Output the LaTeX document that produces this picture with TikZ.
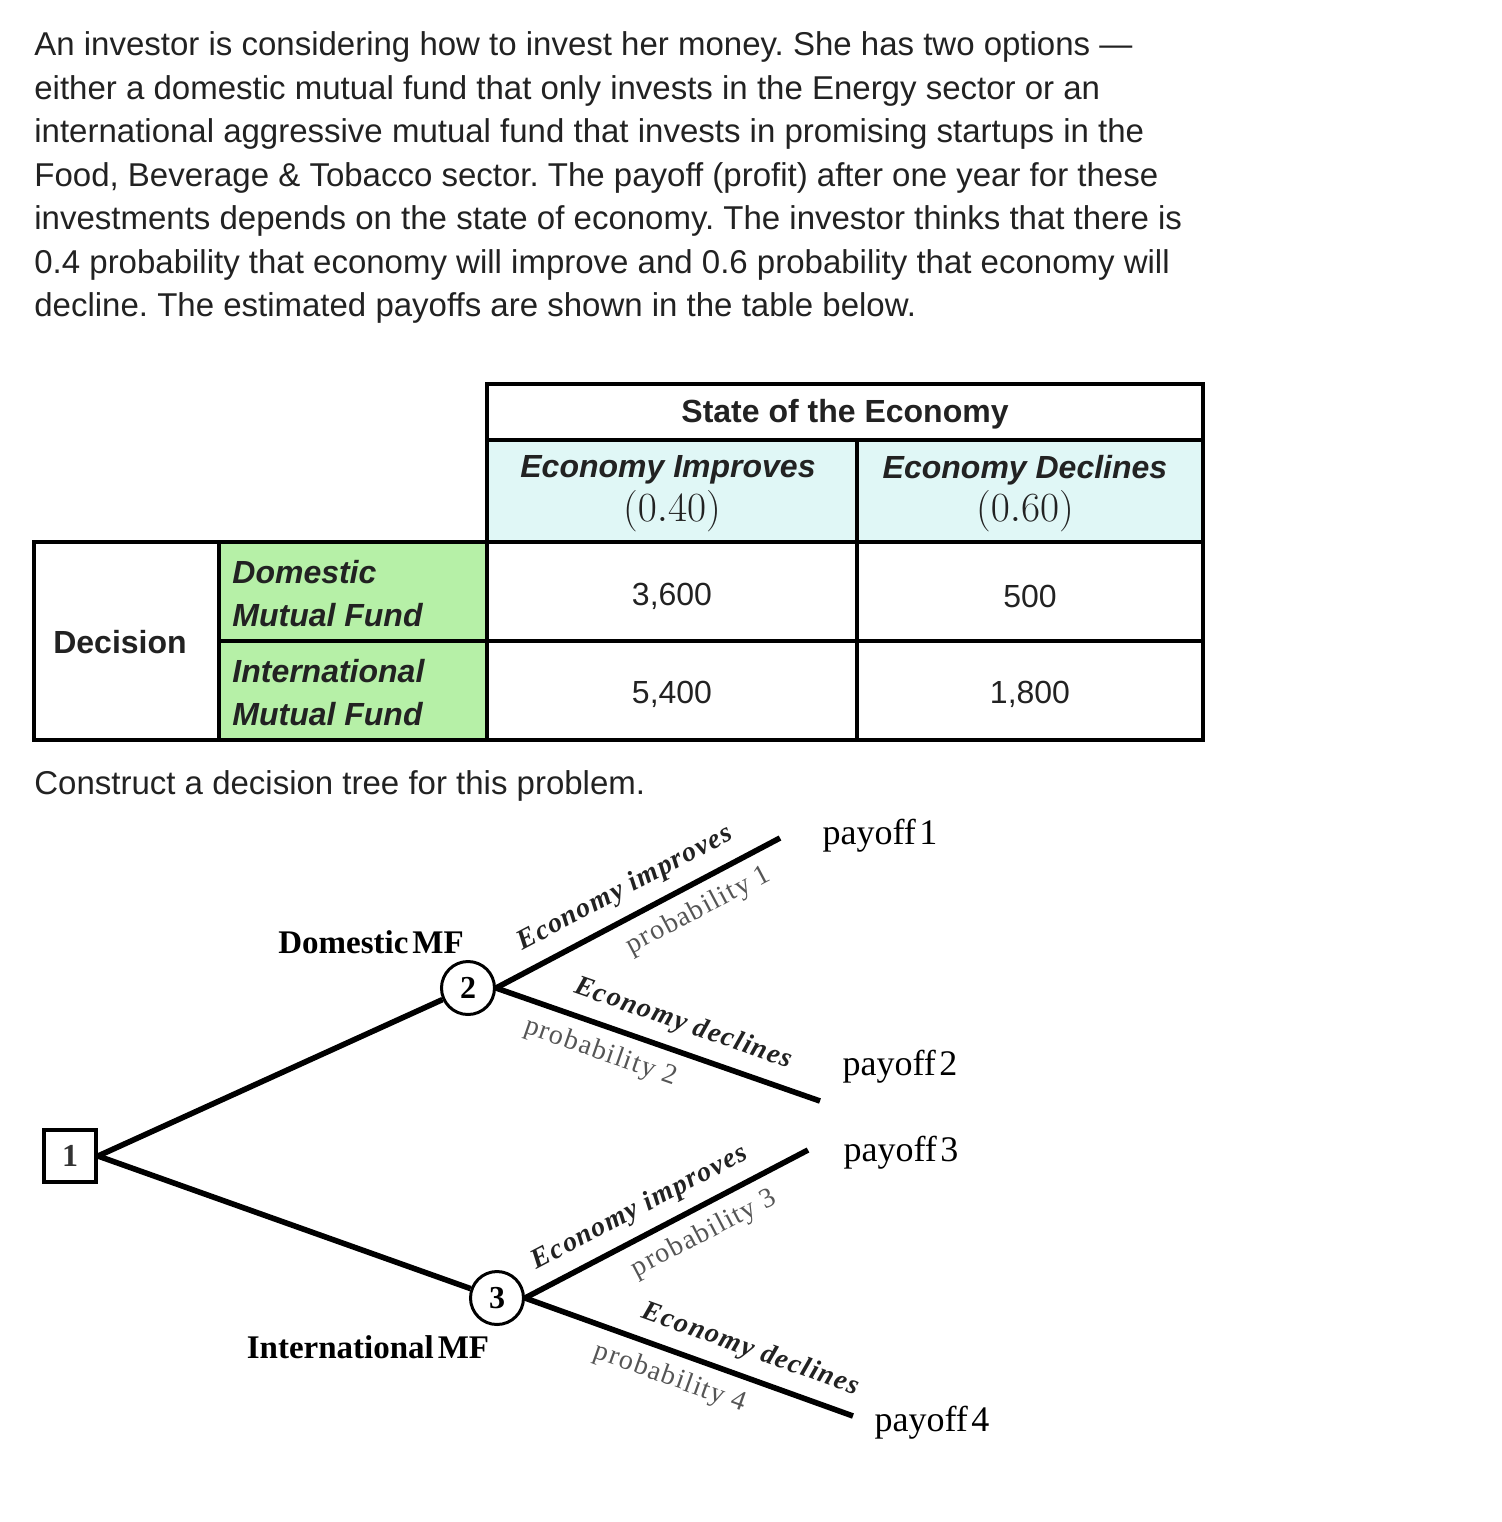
\documentclass[tikz,border=0pt]{standalone}
\usepackage{fontspec}
\setmainfont{Liberation Sans}
\newfontfamily\tms{Liberation Serif}
\newfontfamily\tmsls{Liberation Serif}[LetterSpace=5]
\definecolor{txt}{HTML}{222222}
\definecolor{cyanfill}{HTML}{E0F7F6}
\definecolor{greenfill}{HTML}{B6F0A7}
\definecolor{probgray}{HTML}{555555}
\definecolor{boxgray}{HTML}{333333}
\frenchspacing
\begin{document}
\begin{tikzpicture}[x=0.5pt,y=-0.5pt,
  body/.style={anchor=base west, inner sep=0, font=\fontsize{16.5}{20}\selectfont, text=txt},
  cell/.style={inner sep=0, font=\fontsize{16}{20}\selectfont, text=txt},
  hcell/.style={inner sep=0, font=\bfseries\fontsize{16}{20}\selectfont, text=txt},
  icell/.style={inner sep=0, font=\bfseries\itshape\fontsize{16}{20}\selectfont, text=txt},
  pcell/.style={inner sep=0, font=\fontsize{19.5}{22}\selectfont, text=txt},
  grid/.style={line width=2pt, black},
  branch/.style={line width=2.8pt, black},
  chance/.style={circle, draw, line width=1.5pt, minimum size=26.5pt, inner sep=0, fill=white, font=\tms\bfseries\fontsize{16}{16}\selectfont},
  decision/.style={rectangle, draw, line width=2.2pt, minimum size=25.8pt, inner sep=0, fill=white, text=boxgray, font=\tms\bfseries\fontsize{16}{16}\selectfont},
  optlbl/.style={inner sep=0, font=\tms\bfseries\fontsize{16.5}{18}\selectfont},
  paylbl/.style={inner sep=0, font=\tms\fontsize{18}{20}\selectfont},
  elbl/.style={inner sep=0, sloped, text=txt, font=\tmsls\bfseries\itshape\fontsize{14}{15}\selectfont},
  plbl/.style={inner sep=0, sloped, text=probgray, font=\tmsls\fontsize{14}{15}\selectfont}
]
\useasboundingbox[fill=white] (0,0) rectangle (1502,1522);

% ---- paragraph ----
\node[body] (l1) at (34,55) {An investor is considering how to invest her money. She has two options ---};
\node[body] (l2) at (34,99) {either a domestic mutual fund that only invests in the Energy sector or an};
\node[body] (l3) at (34,142) {international aggressive mutual fund that invests in promising startups in the};
\node[body] (l4) at (34,186) {Food, Beverage \& Tobacco sector. The payoff (profit) after one year for these};
\node[body] (l5) at (34,229) {investments depends on the state of economy. The investor thinks that there is};
\node[body] (l6) at (34,273) {0.4 probability that economy will improve and 0.6 probability that economy will};
\node[body] (l7) at (34,316) {decline. The estimated payoffs are shown in the table below.};

% ---- table ----
\fill[cyanfill] (487,440) rectangle (1203,542);
\fill[greenfill] (219,542) rectangle (487,740);
\draw[grid] (487,384) rectangle (1203,542);
\draw[grid] (487,440) -- (1203,440);
\draw[grid] (857,440) -- (857,740);
\draw[grid] (34,542) rectangle (1203,740);
\draw[grid] (219,542) -- (219,740);
\draw[grid] (487,542) -- (487,740);
\draw[grid] (219,641) -- (1203,641);

\node[hcell] (soe) at (845,414) {State of the Economy};
\node[icell] (ei) at (668,470) {Economy Improves};
\node[pcell] (p40) at (672,511) {$(0.40)$};
\node[icell] (ed) at (1025,470) {Economy Declines};
\node[pcell] (p60) at (1025,511) {$(0.60)$};
\node[hcell] (dec) at (120,642) {Decision};
\node[icell, anchor=west] (dm1) at (232,572) {Domestic};
\node[icell, anchor=west] (dm2) at (232,615) {Mutual Fund};
\node[icell, anchor=west] (im1) at (232,671) {International};
\node[icell, anchor=west] (im2) at (232,714) {Mutual Fund};
\node[cell] (v11) at (672,596) {3,600};
\node[cell] (v12) at (1030,596) {500};
\node[cell] (v21) at (672,694) {5,400};
\node[cell] (v22) at (1030,694) {1,800};

\node[body] (cq) at (34,794) {Construct a decision tree for this problem.};

% ---- tree ----
\node[decision] (n1) at (70,1156) {1};
\node[chance] (n2) at (468,988) {2};
\node[chance] (n3) at (497,1298) {3};
\coordinate (e1) at (780,838);
\coordinate (e2) at (820,1101);
\coordinate (e3) at (808,1150);
\coordinate (e4) at (853,1416);

\draw[branch] (n1.east) -- (n2);
\draw[branch] (n1.east) -- (n3);
\draw[branch] (n2.east) -- node[elbl, pos=0.5, above=6pt] (l21) {Economy improves}
                         node[plbl, pos=0.67, below=5.5pt] (l22) {probability 1} (e1);
\draw[branch] (n2.east) -- node[elbl, pos=0.55, above=6pt] (l23) {Economy declines}
                         node[plbl, pos=0.35, below=5.5pt] (l24) {probability 2} (e2);
\draw[branch] (n3.east) -- node[elbl, pos=0.45, above=5.5pt] (l31) {Economy improves}
                         node[plbl, pos=0.59, below=5.5pt] (l32) {probability 3} (e3);
\draw[branch] (n3.east) -- node[elbl, pos=0.66, above=6pt] (l33) {Economy declines}
                         node[plbl, pos=0.47, below=5.5pt] (l34) {probability 4} (e4);

\node[optlbl] (dmf) at (371,942) {Domestic\hspace{0.12em}MF};
\node[optlbl] (imf) at (368,1347) {International\hspace{0.12em}MF};
\node[paylbl] (pf1) at (880,836) {payoff\hspace{0.1em}1};
\node[paylbl] (pf2) at (900,1067) {payoff\hspace{0.1em}2};
\node[paylbl] (pf3) at (901,1153) {payoff\hspace{0.1em}3};
\node[paylbl] (pf4) at (932,1423) {payoff\hspace{0.1em}4};
\end{tikzpicture}
\end{document}
